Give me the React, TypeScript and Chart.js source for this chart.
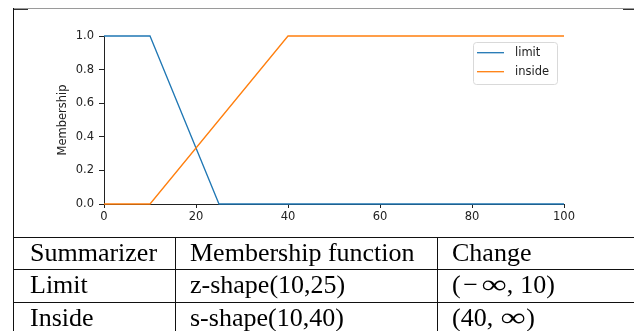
import React, { useEffect, useRef } from 'react';
import { Chart, registerables } from 'chart.js';

Chart.register(...registerables);

// ---- data ----
const seriesNames = ['limit', 'inside'];
const limitX = [0, 10, 25, 100];
const limitY = [1, 1, 0, 0];
const insideX = [0, 10, 40, 100];
const insideY = [0, 0, 1, 1];
const xTickValues = [0, 20, 40, 60, 80, 100];
const yTickValues = [0, 0.2, 0.4, 0.6, 0.8, 1.0];
const yAxisLabel = 'Membership';
const tableHeader = ['Summarizer', 'Membership function', 'Change'];
const tableRowLimit = ['Limit', 'z-shape(10,25)', '(\u2212\u221E, 10)'];
const tableRowInside = ['Inside', 's-shape(10,40)', '(40, \u221E)'];
const seriesColors = ['#1f77b4', '#ff7f0e'];

const FONT = '"DejaVu Sans", sans-serif';

const legendPlugin = {
  id: 'mplLegend',
  afterDatasetsDraw(chart: any) {
    const { ctx, chartArea } = chart;
    const w = 84;
    const h = 42;
    const x = chartArea.right - 7 - w;
    const y = chartArea.top + 6;
    ctx.save();
    ctx.beginPath();
    if (ctx.roundRect) ctx.roundRect(x + 0.5, y + 0.5, w, h, 3);
    else ctx.rect(x + 0.5, y + 0.5, w, h);
    ctx.fillStyle = 'rgba(255,255,255,0.8)';
    ctx.fill();
    ctx.strokeStyle = '#d9d9d9';
    ctx.lineWidth = 1;
    ctx.stroke();
    chart.data.datasets.forEach((ds: any, i: number) => {
      const ly = y + 10.7 + i * 19;
      ctx.beginPath();
      ctx.moveTo(x + 4, ly);
      ctx.lineTo(x + 31, ly);
      ctx.strokeStyle = ds.borderColor;
      ctx.lineWidth = 1.3;
      ctx.stroke();
      ctx.fillStyle = '#222';
      ctx.font = '11.5px ' + FONT;
      ctx.textBaseline = 'middle';
      ctx.textAlign = 'left';
      ctx.fillText(ds.label, x + 42, ly);
    });
    ctx.restore();
  },
};

function ChartPart() {
  const ref = useRef<HTMLCanvasElement | null>(null);
  useEffect(() => {
    if (!ref.current) return;
    const mk = (xs: number[], ys: number[]) => xs.map((x, i) => ({ x, y: ys[i] }));
    const chart = new Chart(ref.current, {
      type: 'line',
      data: {
        datasets: [
          {
            label: seriesNames[0],
            data: mk(limitX, limitY),
            borderColor: seriesColors[0],
            backgroundColor: seriesColors[0],
            borderWidth: 1.3,
            pointRadius: 0,
            tension: 0,
            clip: 5,
            order: 1,
          },
          {
            label: seriesNames[1],
            data: mk(insideX, insideY),
            borderColor: seriesColors[1],
            backgroundColor: seriesColors[1],
            borderWidth: 1.3,
            pointRadius: 0,
            tension: 0,
            clip: 5,
            order: 0,
          },
        ],
      },
      options: {
        responsive: false,
        devicePixelRatio: 1,
        animation: false,
        layout: { padding: { left: 0, right: 70, top: 36, bottom: 0 } },
        plugins: { legend: { display: false }, tooltip: { enabled: false } },
        scales: {
          x: {
            type: 'linear',
            min: 0,
            max: 100,
            afterBuildTicks: (s: any) => {
              s.ticks = xTickValues.map((v) => ({ value: v }));
            },
            afterFit: (s: any) => {
              s.height = 33;
            },
            ticks: {
              color: '#222',
              font: { family: FONT, size: 11.5 },
              padding: 2,
              maxRotation: 0,
              callback: (v: any) => String(v),
            },
            grid: { drawOnChartArea: false, tickLength: 4, color: '#222', tickWidth: 1 },
            border: { display: true, color: '#222', width: 1 },
          },
          y: {
            type: 'linear',
            min: 0,
            max: 1,
            afterBuildTicks: (s: any) => {
              s.ticks = yTickValues.map((v) => ({ value: v }));
            },
            afterFit: (s: any) => {
              s.width = 104;
            },
            ticks: {
              color: '#222',
              font: { family: FONT, size: 11.5 },
              padding: 5,
              callback: (v: any) => Number(v).toFixed(1),
            },
            grid: { drawOnChartArea: false, tickLength: 5, color: '#222', tickWidth: 1 },
            border: { display: true, color: '#222', width: 1 },
            title: {
              display: true,
              text: yAxisLabel,
              color: '#222',
              font: { family: FONT, size: 11.5 },
              padding: { top: 56, bottom: 0 },
            },
          },
        },
      },
      plugins: [legendPlugin],
    } as any);
    return () => chart.destroy();
  }, []);
  return (
    <canvas
      ref={ref}
      width={634}
      height={237}
      style={{ position: 'absolute', left: 0, top: 0, width: 634, height: 237 }}
    />
  );
}

const line = (left: number, top: number, width: number, height: number, bg: string) => (
  <div style={{ position: 'absolute', left, top, width, height, background: bg }} />
);

// Render math-like text: widen the infinity and minus glyphs as TeX does
function renderMath(t: string) {
  return Array.from(t).map((ch, i) => {
    if (ch === '\u221E')
      return (
        <span
          key={i}
          style={{ display: 'inline-block', width: 26, textAlign: 'center', transform: 'scaleX(1.35)' }}
        >
          {ch}
        </span>
      );
    if (ch === '\u2212')
      return (
        <span key={i} style={{ display: 'inline-block', width: 20, textAlign: 'center' }}>
          {ch}
        </span>
      );
    if (ch === ' ')
      return (
        <span key={i} style={{ display: 'inline-block', width: 7 }}>
          {'\u2009'}
        </span>
      );
    return <span key={i}>{ch}</span>;
  });
}

export default function App() {
  const colX = [30, 190, 452];
  const rowTops = [238, 270.5, 303];
  const rows = [tableHeader, tableRowLimit, tableRowInside];
  return (
    <div
      style={{
        position: 'fixed',
        left: 0,
        top: 0,
        width: 634,
        height: 331,
        background: '#fff',
        overflow: 'hidden',
      }}
    >
      <ChartPart />
      {line(13, 8, 621, 1, '#9a9a9a')}
      {line(13, 9, 15, 1, '#333')}
      {line(623, 9, 11, 1, '#333')}
      {line(13, 8, 1, 323, '#111')}
      {line(13, 237, 621, 1, '#111')}
      {line(13, 269, 621, 1, '#111')}
      {line(13, 302, 621, 1, '#111')}
      {line(175, 237, 1, 94, '#111')}
      {line(437, 237, 1, 94, '#111')}
      {rows.map((r, ri) =>
        r.map((t, ci) => (
          <div
            key={ri + '-' + ci}
            style={{
              position: 'absolute',
              left: colX[ci],
              top: rowTops[ri] - 0.5,
              lineHeight: '30px',
              fontSize: 26,
              fontFamily: '"Liberation Serif", "Times New Roman", serif',
              color: '#000',
              whiteSpace: 'nowrap',
            }}
          >
            {ci === 2 && ri > 0 ? renderMath(t) : t}
          </div>
        ))
      )}
    </div>
  );
}
